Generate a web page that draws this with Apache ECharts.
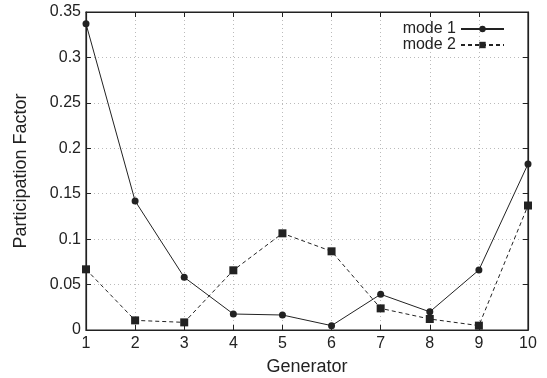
<!DOCTYPE html>
<html>
<head>
<meta charset="utf-8">
<script src="https://cdn.jsdelivr.net/npm/echarts@6/dist/echarts.min.js"></script>
<style>
  html, body { margin: 0; padding: 0; background: #fff; }
  #chart { width: 547px; height: 378px; }
</style>
</head>
<body>
<div id="chart"></div>
<script>
// generator numbers on the x axis
const generators = [1, 2, 3, 4, 5, 6, 7, 8, 9, 10];
// participation factors
const mode1 = [0.337, 0.142, 0.058, 0.0176, 0.0165, 0.0048, 0.0393, 0.020, 0.066, 0.1827];
const mode2 = [0.0668, 0.0106, 0.0084, 0.0657, 0.1064, 0.0866, 0.0238, 0.0121, 0.0048, 0.137];
const seriesNames = ["mode 1", "mode 2"];

const pairs = (vals) => generators.map((g, i) => [g, vals[i]]);
const font = "Liberation Sans, Arial, sans-serif";
const ink = "#222";
// a long dash with no gap: solid, but set explicitly so the dotted grid can't leak in
const solid = [400, 0];
const gridLine = () => ({ show: true, lineStyle: { color: "#bbb", type: [1, 3] } });
const axisLine = () => ({ show: true, onZero: false, lineStyle: { color: ink, width: 1.2, type: solid } });
const axisTick = () => ({ show: true, inside: true, length: 5, lineStyle: { color: ink, type: solid } });

let chart = echarts.init(document.getElementById("chart"));
chart.setOption({
  animation: false,
  grid: {
    left: 86, right: 19, top: 12, bottom: 48,
    outerBoundsMode: "none",
    show: true,
    zlevel: 2,
    backgroundColor: "transparent",
    borderColor: ink,
    borderWidth: 1.2,
  },
  legend: {
    orient: "vertical",
    right: 37,
    top: 16,
    align: "right",
    itemWidth: 43,
    itemHeight: 8,
    itemGap: 0,
    textStyle: { fontFamily: font, fontSize: 16, color: ink },
    data: seriesNames,
  },
  xAxis: [
    {
      type: "value",
      min: 1,
      max: 10,
      interval: 1,
      name: "Generator",
      nameLocation: "middle",
      nameGap: 28,
      nameTextStyle: { fontFamily: font, fontSize: 18, color: ink },
      axisLine: axisLine(),
      axisTick: axisTick(),
      axisLabel: { fontFamily: font, fontSize: 16, color: ink, margin: 6 },
      splitLine: gridLine(),
    },
    {
      // top copy, for the inward ticks
      type: "value", min: 1, max: 10, interval: 1, position: "top",
      axisLine: axisLine(), axisTick: axisTick(),
      axisLabel: { show: false }, splitLine: { show: false },
    },
  ],
  yAxis: [
    {
      type: "value",
      min: 0,
      max: 0.35,
      interval: 0.05,
      name: "Participation Factor",
      nameLocation: "middle",
      nameGap: 56,
      nameTextStyle: { fontFamily: font, fontSize: 18, color: ink },
      axisLine: axisLine(),
      axisTick: axisTick(),
      axisLabel: {
        fontFamily: font,
        fontSize: 16,
        color: ink,
        margin: 5,
        formatter: (v) => (v === 0 ? "0" : String(+v.toFixed(2))),
      },
      splitLine: gridLine(),
    },
    {
      // right copy, for the inward ticks
      type: "value", min: 0, max: 0.35, interval: 0.05, position: "right",
      axisLine: axisLine(), axisTick: axisTick(),
      axisLabel: { show: false }, splitLine: { show: false },
    },
  ],
  series: [
    {
      name: seriesNames[0],
      type: "line",
      data: pairs(mode1),
      symbol: "circle",
      symbolSize: 7,
      itemStyle: { color: ink },
      lineStyle: { color: ink, width: 1, type: solid },
    },
    {
      name: seriesNames[1],
      type: "line",
      data: pairs(mode2),
      symbol: "rect",
      symbolSize: 8,
      itemStyle: { color: ink },
      lineStyle: { color: ink, width: 1, type: [4, 3] },
    },
  ],
});
</script>
</body>
</html>
